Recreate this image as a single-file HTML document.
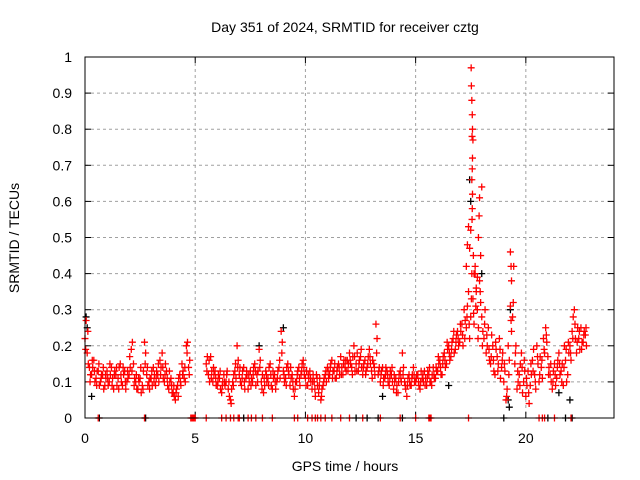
<!DOCTYPE html>
<html><head><meta charset="utf-8"><style>
html,body{margin:0;padding:0;background:#fff;}
svg{display:block;font-family:"Liberation Sans",sans-serif;}
</style></head><body>
<svg id="chart" width="640" height="480" viewBox="0 0 640 480">
<rect x="0" y="0" width="640" height="480" fill="#fff"/>
<text x="345" y="32" font-size="14" text-anchor="middle">Day 351 of 2024, SRMTID for receiver cztg</text>
<g id="grid"></g>
<g id="ticks"></g>
<g id="blk"></g>
<g id="red"></g>
<rect x="85" y="57" width="529" height="361" fill="none" stroke="#000" stroke-width="1"/>
<text x="345" y="471" font-size="14" text-anchor="middle">GPS time / hours</text>
<text x="19" y="238" font-size="14" text-anchor="middle" transform="rotate(-90 19 238)">SRMTID / TECUs</text>
</svg>
<script>
const xTicks=[0,5,10,15,20];
const yTicks=[0,0.1,0.2,0.3,0.4,0.5,0.6,0.7,0.8,0.9,1];
const yTickLabels=["0","0.1","0.2","0.3","0.4","0.5","0.6","0.7","0.8","0.9","1"];
const redA=[0.22,0.18,0.14,0.12,0.16,0.11,0.13,0.10,0.12,0.09,
0.13,0.10,0.14,0.08,0.12,0.11,0.15,0.09,0.13,0.10,
0.12,0.19,0.15,0.10,0.08,0.11,0.09,0.21,0.12,0.10,
0.11,0.14,0.09,0.12,0.16,0.18,0.10,0.13,0.08,0.11,
0.07,0.05,0.09,0.12,0.15,0.11,0.20,0.14,null,null,
null,null,null,null,null,0.15,0.12,0.17,0.10,0.13,
0.09,0.11,0.07,0.12,0.10,0.08,0.05,0.10,0.13,0.20,
0.12,0.09,0.14,0.11,0.08,0.13,0.10,0.15,0.12,0.19,
0.10,0.07,0.13,0.11,0.15,0.08,0.12,0.10,0.14,0.24,
0.13,0.11,0.15,0.09,0.12,0.06,0.10,0.14,0.12,0.16,
0.11,0.09,0.13,0.08,0.10,0.12,0.07,0.05,0.09,0.12,
0.14,0.12,0.16,0.13,0.11,0.15,0.17,0.12,0.14,0.16,
0.18,0.14,0.20,0.15,0.13,0.17,0.12,0.16,0.14,0.19,
0.13,0.15,0.26,0.12,0.10,0.14,0.11,0.13,0.09,0.12,
0.08,0.11,0.07,0.13,0.18,0.10,0.06,0.12,0.09,0.14,
0.10,0.12,0.08,0.11,0.13,0.09,0.12,0.10,0.14,0.11,
0.13,0.16,0.12,0.18,0.15,0.20,0.17,0.22,0.19,0.24,
0.21,0.26,0.30,0.25,0.35,0.28,0.33,0.40,0.30,0.38,
0.28,0.22,0.18,0.25,0.15,0.20,0.12,0.17,0.22,0.14,
0.10,0.05,0.20,0.31,0.28,0.15,0.08,0.12,0.18,0.10,
0.06,0.13,0.09,0.16,0.12,0.20,0.10,0.14,0.22,0.25,
0.17,0.12,0.08,0.15,0.11,0.18,0.13,0.09,0.16,0.12,
0.20,0.24,0.30,0.18,0.22,0.25,0.21,0.23];
const redB=[0.27,0.15,0.12,0.14,0.10,0.13,0.09,0.12,0.08,0.11,
0.09,0.12,0.11,0.13,0.09,0.14,0.10,0.12,0.08,0.11,
0.14,0.21,0.11,0.08,0.10,0.07,0.13,0.18,0.09,0.11,
0.09,0.12,0.13,0.10,0.14,0.11,0.15,0.09,0.10,0.07,
0.06,0.08,0.11,0.09,0.13,0.10,0.21,0.16,null,null,
null,null,null,null,null,0.17,0.10,0.13,0.12,0.09,
0.12,0.08,0.10,0.09,0.13,0.06,0.08,0.12,0.11,0.16,
0.10,0.13,0.08,0.12,0.10,0.11,0.14,0.09,0.13,0.16,
0.12,0.09,0.10,0.14,0.09,0.11,0.08,0.13,0.11,0.21,
0.10,0.14,0.12,0.11,0.08,0.10,0.13,0.09,0.15,0.12,
0.13,0.11,0.10,0.12,0.06,0.09,0.11,0.08,0.11,0.10,
0.11,0.15,0.13,0.11,0.14,0.12,0.14,0.16,0.13,0.15,
0.15,0.17,0.13,0.18,0.16,0.14,0.15,0.13,0.17,0.15,
0.16,0.12,0.22,0.14,0.13,0.11,0.14,0.10,0.13,0.10,
0.10,0.09,0.12,0.10,0.14,0.08,0.11,0.09,0.12,0.10,
0.12,0.09,0.13,0.10,0.11,0.13,0.10,0.12,0.11,0.13,
0.15,0.12,0.17,0.14,0.19,0.16,0.21,0.18,0.23,0.20,
0.24,0.20,0.27,0.31,0.22,0.40,0.26,0.35,0.25,0.32,
0.24,0.30,0.20,0.16,0.23,0.13,0.19,0.15,0.11,0.18,
0.13,0.08,0.16,0.24,0.42,0.20,0.10,0.15,0.07,0.13,
0.09,0.04,0.12,0.19,0.08,0.15,0.17,0.11,0.18,0.21,
0.14,0.10,0.13,0.09,0.16,0.12,0.15,0.20,0.10,0.18,
0.16,0.28,0.22,0.25,0.19,0.21,0.24,0.20];
const redC=[0.19,0.24,0.10,0.16,0.13,0.09,0.15,0.11,0.14,0.12,
0.11,0.15,0.09,0.12,0.14,0.08,0.12,0.14,0.10,0.13,
0.17,0.13,0.09,0.12,0.11,0.14,0.08,0.15,0.14,0.08,
0.13,0.10,0.11,0.15,0.12,0.14,0.12,0.11,0.13,0.09,
0.09,0.07,0.06,0.10,0.12,0.14,0.18,0.12,null,null,
null,null,null,null,null,0.13,0.16,0.11,0.14,0.11,
0.10,0.13,0.09,0.10,0.12,0.10,0.04,0.09,0.15,0.14,
0.14,0.11,0.10,0.13,0.12,0.09,0.12,0.13,0.10,0.14,
0.08,0.11,0.12,0.09,0.12,0.13,0.10,0.11,0.16,0.18,
0.12,0.09,0.13,0.14,0.10,0.08,0.12,0.11,0.13,0.14,
0.09,0.12,0.11,0.10,0.08,0.11,0.09,0.06,0.10,0.13,
0.13,0.14,0.11,0.15,0.13,0.14,0.12,0.15,0.16,0.13,
0.16,0.12,0.17,0.13,0.15,0.19,0.14,0.12,0.15,0.17,
0.11,0.14,0.18,0.13,0.12,0.09,0.12,0.12,0.11,0.14,
0.12,0.07,0.10,0.11,0.12,0.09,0.09,0.10,0.11,0.12,
0.11,0.10,0.10,0.12,0.09,0.11,0.14,0.09,0.12,0.14,
0.17,0.14,0.15,0.16,0.21,0.18,0.19,0.24,0.21,0.22,
0.26,0.23,0.22,0.28,0.26,0.33,0.29,0.31,0.22,0.35,
0.20,0.26,0.23,0.19,0.17,0.16,0.21,0.13,0.19,0.16,
0.15,0.06,0.12,0.27,0.32,0.18,0.13,0.09,0.14,0.16,
0.11,0.07,0.15,0.13,0.10,0.17,0.12,0.16,0.19,0.23,
0.12,0.15,0.10,0.12,0.14,0.15,0.10,0.14,0.19,0.21,
0.18,0.22,0.26,0.21,0.24,0.19,0.23,0.25];
const peakT=[17.52,17.53,17.55,17.57,17.58,17.56,17.6,17.58,17.57,17.55,17.58,17.57,17.56,17.5,17.45,17.62,17.7,17.75,17.8,17.85,17.95,18.0,17.9,17.88,17.4,17.35,17.3,17.65,19.3,19.33,19.35];
const peakV=[0.97,0.92,0.88,0.84,0.80,0.78,0.77,0.72,0.69,0.66,0.62,0.58,0.55,0.52,0.47,0.45,0.42,0.36,0.39,0.50,0.45,0.64,0.61,0.56,0.53,0.48,0.42,0.40,0.46,0.42,0.38];
const zeroRedT=[0.6,2.7,4.8,4.85,4.9,4.95,5.0,5.5,6.2,6.4,6.6,6.75,6.95,7.0,7.4,7.55,7.75,8.05,8.5,9.5,9.65,10.1,10.3,10.45,10.55,10.7,10.9,11.2,11.6,12.0,12.6,13.4,14.3,15.0,15.6,15.65,15.7,17.4,20.6,20.75,20.85,21.3,22.05];
const blackT=[0.05,0.1,0.3,7.9,9.0,17.5,17.45,18.0,19.3,19.2,19.25,22.0,21.5,13.5,16.5];
const blackV=[0.28,0.25,0.06,0.2,0.25,0.6,0.66,0.4,0.3,0.05,0.03,0.05,0.07,0.06,0.09];
const zeroBlackT=[0.65,2.75,7.2,12.3,12.8,13.3,14.4,19.0,21.0,21.8,22.1];

const X0=85,X1=614,Y0=418,Y1=57,XMAX=24;
const xs=t=>X0+(X1-X0)*t/XMAX;
const ys=v=>Y0-(Y0-Y1)*v;
const NS="http://www.w3.org/2000/svg";
function mk(tag,attrs,parent){const e=document.createElementNS(NS,tag);for(const k in attrs)e.setAttribute(k,attrs[k]);parent.appendChild(e);return e;}
const grid=document.getElementById('grid'),ticks=document.getElementById('ticks');
xTicks.forEach(t=>{const x=xs(t);
 if(t>0){const g=mk('line',{x1:x,y1:Y1,x2:x,y2:Y0,stroke:'#a0a0a0','stroke-dasharray':'3,3'},grid);
 
 }
 mk('line',{x1:x,y1:Y0,x2:x,y2:Y0-6,stroke:'#000'},ticks);
 mk('line',{x1:x,y1:Y1,x2:x,y2:Y1+6,stroke:'#000'},ticks);
 const l=mk('text',{x:x,y:443,'font-size':14,'text-anchor':'middle'},ticks);l.textContent=t;
 
 });
yTicks.forEach((v,i)=>{const y=ys(v);
 if(v>0&&v<1){const g=mk('line',{x1:X0,y1:y,x2:X1,y2:y,stroke:'#a0a0a0','stroke-dasharray':'3,3'},grid);
 
 }
 mk('line',{x1:X0,y1:y,x2:X0+6,y2:y,stroke:'#000'},ticks);
 mk('line',{x1:X1,y1:y,x2:X1-6,y2:y,stroke:'#000'},ticks);
 const l=mk('text',{x:72,y:y+5,'font-size':14,'text-anchor':'end'},ticks);l.textContent=yTickLabels[i];
 
 });
function plus(t,v,col,g){if(v===null)return;const x=xs(t),y=ys(v);
 const p=mk('path',{d:`M${x-3.5} ${y}H${x+3.5}M${x} ${y-3.5}V${y+3.5}`,stroke:col,'stroke-width':1.3,fill:'none'},g);
 
 }
const blk=document.getElementById('blk'),red=document.getElementById('red');
blackT.forEach((t,i)=>plus(t,blackV[i],'#000',blk));
zeroBlackT.forEach(t=>plus(t,0,'#000',blk));
redA.forEach((v,i)=>plus(i*0.1,v,'#ff0000',red));
redB.forEach((v,i)=>plus(i*0.1+0.05,v,'#ff0000',red));
redC.forEach((v,i)=>plus(i*0.1+0.03,v,'#ff0000',red));
peakT.forEach((t,i)=>plus(t,peakV[i],'#ff0000',red));
zeroRedT.forEach(t=>plus(t,0,'#ff0000',red));
</script>
</body></html>
